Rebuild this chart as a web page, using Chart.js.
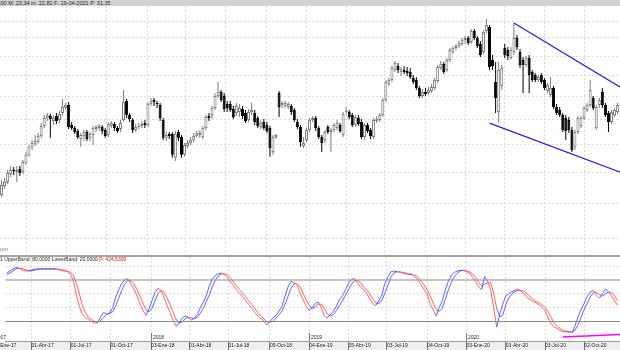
<!DOCTYPE html>
<html><head><meta charset="utf-8">
<script src="https://cdn.jsdelivr.net/npm/chart.js@4"></script>
<style>
html,body{margin:0;padding:0;background:#fff;}
#wrap{position:relative;width:620px;height:350px;overflow:hidden;font-family:"Liberation Sans",Arial,sans-serif;}
#band{position:absolute;left:0;top:341px;width:620px;height:9px;background:#efefef;}
#main{position:absolute;left:0;top:6px;}
#osc{position:absolute;left:0;top:257px;}
#hdr{position:absolute;left:0;top:0;width:620px;height:6px;background:#d3d3d3;overflow:hidden;}
#hdr span{position:absolute;left:-1px;top:0px;font-size:5.5px;line-height:6px;white-space:nowrap;color:#222;}
#sep{position:absolute;left:0;top:255px;width:620px;height:2px;background:#a4a4a4;}
#oh{position:absolute;left:0;top:256px;font-size:5px;line-height:6px;white-space:nowrap;color:#222;}
#wm{position:absolute;left:0;top:246px;font-size:6px;line-height:7px;color:#7272d8;}
.red{color:#e01010;}
</style>
</head><body>
<div id="wrap">
  <div id="band"></div>
  <canvas id="main" width="620" height="249"></canvas>
  <canvas id="osc" width="620" height="93"></canvas>
  <div id="hdr"><span>,00 M: 23,34 m: 22,82 F: 19-04-2021 <span class="red" style="position:static">P: 31,35</span></span></div>
  <div id="sep"></div>
  <div id="oh">1 UpperBand: 80,0000 LowerBand: 20,0000 <span class="red">P: 424,5399</span></div>
  <div id="wm">om</div>
</div>
<script>
// ---- weekly OHLC (price) ----
const opens = [
16.52,17.09,17.35,17.89,18.16,18.02,18.23,18.02,18.66,19.24,
19.83,20.06,20.21,20.67,21.47,22.13,22.30,21.88,22.30,21.96,
22.56,22.99,23.26,21.55,21.30,21.06,20.44,20.67,20.98,20.52,
20.75,21.22,21.30,21.39,21.14,20.75,21.47,21.63,21.30,21.22,
21.96,23.61,22.39,21.96,21.14,21.39,21.47,21.71,21.55,23.34,
23.70,23.43,23.26,21.96,20.52,20.83,20.83,19.02,20.98,20.59,
19.24,19.90,20.13,20.36,20.67,20.75,20.59,21.30,22.30,22.39,
22.99,24.07,24.44,24.07,23.34,23.34,22.90,22.56,22.64,22.90,
22.56,21.96,22.64,22.56,22.13,21.39,21.80,21.55,21.30,19.45,
20.59,24.34,23.26,23.17,23.08,23.17,22.81,21.80,21.39,19.90,
20.36,21.14,21.96,22.13,21.30,20.59,20.36,21.39,20.98,21.14,
21.30,21.55,20.75,22.64,22.64,22.39,21.55,22.13,21.80,20.59,
21.55,21.14,20.59,21.88,21.96,22.39,23.70,25.19,25.57,26.56,
26.97,26.36,26.56,26.46,26.36,25.77,25.57,24.81,24.07,24.44,
24.34,24.53,24.81,25.48,26.77,27.18,26.56,27.59,28.45,28.88,
29.10,29.33,29.77,30.00,29.55,30.81,30.00,29.33,28.45,30.81,
31.28,27.59,25.38,22.64,25.00,28.88,28.66,27.80,28.45,30.00,
28.45,27.59,27.08,27.80,26.36,26.07,25.57,26.07,25.57,24.53,
24.16,24.81,23.08,22.81,22.39,22.13,21.96,21.14,19.83,20.98,
21.47,22.13,22.81,23.26,23.88,21.30,23.26,24.44,23.26,22.56,
21.80,22.39,22.64];
const highs = [
17.48,17.62,18.16,18.44,18.37,18.44,18.44,18.87,19.45,19.98,
20.36,20.75,20.91,21.71,22.39,22.56,22.47,22.39,22.56,22.73,
23.79,23.43,23.52,21.80,21.47,21.22,20.91,21.14,21.14,20.98,
21.47,21.55,21.63,21.55,21.30,21.80,21.88,21.80,21.47,21.96,
24.62,23.79,22.56,22.13,21.63,21.71,21.88,21.96,23.52,23.88,
23.88,23.61,23.43,22.13,20.98,20.98,20.98,21.06,21.14,20.75,
20.13,20.36,20.59,20.91,21.06,21.14,21.47,22.39,22.56,23.17,
24.34,25.38,24.62,24.34,23.61,23.61,23.17,23.43,23.34,23.17,
22.81,22.90,23.43,22.81,22.30,21.96,22.05,21.80,21.47,20.75,
20.83,24.53,23.61,23.61,23.52,23.34,22.99,22.05,21.55,20.59,
21.30,22.13,22.30,22.30,21.47,20.75,21.14,21.55,21.30,21.71,
21.96,21.71,22.64,23.08,22.81,22.56,22.39,22.39,22.05,21.71,
21.71,21.30,22.13,22.30,22.56,23.88,25.57,25.77,26.97,27.49,
27.28,26.87,26.97,26.87,26.77,26.07,25.87,25.00,24.72,24.81,
24.91,25.19,25.77,27.08,27.49,27.38,27.80,28.88,29.10,29.33,
29.66,30.00,30.23,30.23,31.04,31.04,30.23,29.66,30.92,32.25,
31.52,28.13,27.38,27.38,27.08,29.33,28.99,28.99,31.76,30.35,
28.77,27.91,28.02,28.13,26.56,26.26,26.07,26.26,25.77,25.29,
25.87,25.00,23.34,23.08,22.56,22.39,22.22,21.39,21.14,22.30,
22.30,23.17,23.43,25.57,24.07,23.26,23.88,24.81,23.43,22.73,
22.81,22.99,23.43];
const lows = [
16.39,16.90,17.22,17.68,17.82,17.35,17.75,17.89,18.52,19.09,
19.60,19.90,20.06,20.52,21.30,21.88,20.52,21.55,21.63,21.71,
22.39,22.81,21.22,21.14,20.83,20.44,19.83,20.28,20.28,20.28,
19.98,20.98,21.06,20.83,20.52,20.59,21.30,21.06,20.91,20.98,
21.80,22.13,21.80,20.91,20.98,21.22,21.30,21.30,21.39,23.17,
23.17,22.99,21.88,20.36,20.28,20.44,19.02,18.80,20.28,19.02,
19.09,19.75,19.98,20.21,20.52,20.52,20.44,21.14,21.88,22.05,
22.81,23.88,23.52,22.64,22.64,22.64,22.05,22.30,22.22,22.05,
21.71,21.80,22.39,21.55,21.30,21.22,21.14,20.91,19.09,19.24,
20.44,22.22,22.99,22.99,22.90,22.39,21.80,21.22,19.83,19.75,
20.21,20.98,21.80,21.06,20.44,19.45,20.13,20.83,19.45,20.98,
21.14,20.91,20.59,22.47,22.05,21.39,21.39,21.47,20.44,20.36,
20.91,20.44,20.44,21.71,21.80,22.22,23.52,25.00,25.38,26.36,
26.26,25.97,26.16,25.97,25.67,25.19,24.62,23.88,23.88,24.07,
24.16,24.34,24.62,25.29,26.56,26.16,26.36,27.38,28.23,28.66,
28.88,29.10,29.33,29.22,29.33,29.77,28.88,27.91,28.23,30.58,
26.56,26.56,22.56,21.71,24.62,27.80,27.59,27.59,28.13,28.66,
26.77,24.34,26.87,24.34,25.38,25.38,25.38,25.19,24.62,24.34,
23.98,22.90,22.39,22.22,20.98,20.36,20.91,19.45,19.60,20.83,
21.30,21.96,22.64,23.08,22.81,21.14,22.99,22.99,22.22,20.98,
21.63,22.22,22.47];
const closes = [
17.16,17.35,17.96,18.16,18.09,18.16,17.96,18.73,19.24,19.83,
20.13,20.28,20.67,21.47,22.13,22.39,22.05,22.13,21.88,22.47,
23.08,23.26,21.39,21.30,20.98,20.59,20.75,20.98,20.44,20.83,
21.30,21.39,21.47,21.06,20.67,21.63,21.71,21.30,21.06,21.71,
23.52,22.39,22.05,21.14,21.39,21.47,21.63,21.55,23.34,23.61,
23.52,23.34,22.13,20.52,20.75,20.67,19.24,20.83,20.52,19.24,
19.98,20.13,20.36,20.67,20.91,20.91,21.30,22.22,22.13,22.99,
24.07,24.44,23.70,22.90,22.99,22.81,22.22,23.17,22.99,22.30,
21.88,22.64,22.81,21.80,21.47,21.71,21.30,21.06,19.75,20.59,
20.75,23.08,23.43,23.43,23.34,22.64,21.96,21.39,20.21,20.13,
21.14,21.96,22.13,21.30,20.59,20.13,20.98,20.98,21.14,21.55,
21.71,21.06,22.47,22.73,22.22,21.55,22.22,21.63,20.59,21.55,
21.06,20.67,21.96,22.05,22.39,23.70,25.38,25.57,26.77,27.28,
26.56,26.66,26.36,26.26,25.87,25.38,24.81,24.07,24.44,24.25,
24.62,24.91,25.57,26.87,27.18,26.36,27.59,28.66,28.88,29.10,
29.44,29.77,30.00,29.44,30.81,30.00,29.10,28.13,30.69,31.52,
26.87,26.97,23.88,26.56,26.77,28.13,28.02,28.66,30.00,28.99,
27.08,27.08,27.80,26.07,25.57,25.57,25.87,25.38,24.81,25.10,
24.81,23.08,22.56,22.39,21.14,21.06,21.14,19.60,20.98,22.13,
22.13,22.99,23.26,24.62,22.99,23.08,23.70,23.26,22.39,21.80,
22.64,22.81,23.26];

// ---- stochastic %K / %D ----
const stochK = [
90,93,96,98,97,95,93,93,94,96, 96,96,96,96,96,96,96,95,94,93,
92,88,80,58,42,30,26,23,20,18, 18,27,33,31,32,40,55,66,75,80,
82,75,67,58,46,36,29,38,50,62, 68,64,55,43,33,22,13,18,25,28,
26,22,25,30,40,48,58,72,82,87, 89,90,88,83,77,72,65,61,56,50,
45,39,33,28,24,21,15,20,25,29, 35,42,57,70,78,76,72,61,51,42,
36,40,46,48,40,28,25,30,35,42, 52,57,66,75,81,82,75,70,66,61,
53,46,43,50,58,75,84,92,93,92, 91,90,89,88,88,84,80,73,66,60,
45,37,28,40,50,66,78,87,91,93, 94,94,92,90,84,78,70,66,85,78,
66,40,12,30,45,57,60,63,65,67, 64,60,55,52,49,47,44,40,36,25,
17,12,10,7,5,5,5,4,15,28, 38,47,57,63,65,58,54,60,67,63,
57,50,43];
const stochD = [
88,90,93,96,97,97,95,94,93,94, 95,96,96,96,96,96,96,96,95,94,
93,91,87,75,60,43,33,26,23,20, 19,21,26,30,32,34,42,54,65,74,
79,79,75,67,57,47,37,34,39,50, 60,65,62,54,44,33,23,18,19,24,
26,25,24,26,32,39,49,59,71,80, 86,89,89,87,83,77,71,66,61,56,
50,45,39,33,28,24,20,19,20,25, 30,35,45,56,68,75,75,70,61,51,
43,39,41,45,45,39,31,28,30,36, 43,50,58,66,74,79,79,76,70,66,
60,53,47,46,50,61,72,84,90,92, 92,91,90,89,88,87,84,79,73,66,
57,47,37,35,39,52,65,77,85,90, 93,94,93,92,89,84,77,71,74,76,
76,61,39,27,29,44,54,60,63,65, 65,64,60,56,52,49,47,44,40,34,
26,18,13,10,7,6,5,5,8,16, 27,38,47,56,62,62,59,57,60,63,
62,57,50];
const upperBand = 80;
const lowerBand = 20;

// ---- drawn trend lines (week index, value) ----
const channelTop = [{x:168, y:31.76}, {x:210, y:23.67}];
const channelBottom = [{x:160, y:21.71}, {x:210, y:17.46}];
const oscTrend = [{x:183.8, y:-2.5}, {x:212, y:2.9}];

// ---- axis ----
const firstBar = '2017-02-03';
const quarterDates = ['2017-01-02','2017-04-01','2017-07-01','2017-10-01','2018-01-03','2018-04-01','2018-07-01','2018-10-05','2019-01-04','2019-04-05','2019-07-03','2019-10-04','2020-01-03','2020-04-03','2020-07-03','2020-10-02'];
const quarterLabels = ['02-Ene-17','01-Abr-17','01-Jul-17','01-Oct-17','03-Ene-18','01-Abr-18','01-Jul-18','05-Oct-18','04-Ene-19','05-Abr-19','03-Jul-19','04-Oct-19','03-Ene-20','03-Abr-20','03-Jul-20','02-Oct-20'];
const yearDates = ['2017-01-02','2018-01-03','2019-01-04','2020-01-03'];
const yearLabels = ['2017','2018','2019','2020'];
const priceGrid = [14,16,18,20,22,24,26,28,30,32];
const oscGrid = [40,60,100];
const visibleWeeks = [-0.5, 202.78];
const priceRange = [13.145, 33.88];
const oscRange = [-8.2, 113.3];

const toUTC = s => { const p = s.split('-').map(Number); return Date.UTC(p[0], p[1]-1, p[2]); };
const weekOf = s => (toUTC(s) - toUTC(firstBar)) / (7*864e5);
const isUp = i => closes[i] >= opens[i];
const FONT = '"Liberation Sans", Arial, sans-serif';
const GRID = '#dadada';

const xBase = () => ({
  type:'linear', min:visibleWeeks[0], max:visibleWeeks[1], bounds:'data', offset:false,
  afterBuildTicks: s => { s.ticks = quarterDates.map(d => ({value: weekOf(d)})); }
});

new Chart(document.getElementById('main'), {
  type:'bar',
  data:{datasets:[
    {type:'line', data:channelTop, borderColor:'#2424dc', borderWidth:1.3, pointRadius:0, order:-1},
    {type:'line', data:channelBottom, borderColor:'#2424dc', borderWidth:1.3, pointRadius:0, order:-1},
    {data: opens.map((o,i)=>({x:i, y:[o, closes[i]]})), grouped:false, barThickness:3, maxBarThickness:3,
     borderWidth:1, borderSkipped:false, inflateAmount:0,
     backgroundColor: c => isUp(c.dataIndex) ? '#ffffff' : '#000000',
     borderColor: c => isUp(c.dataIndex) ? '#7c7c7c' : '#000000', order:0},
    {data: lows.map((l,i)=>({x:i, y:[l, highs[i]]})), grouped:false, barThickness:1, maxBarThickness:1,
     borderWidth:0, inflateAmount:0,
     backgroundColor: c => isUp(c.dataIndex) ? '#7c7c7c' : '#000000', order:1}
  ]},
  options:{
    responsive:false, animation:false, devicePixelRatio:1,
    layout:{padding:0},
    plugins:{legend:{display:false}, tooltip:{enabled:false}},
    scales:{
      x: Object.assign(xBase(), {
        ticks:{display:false}, grid:{color:GRID, drawTicks:false, offset:false},
        border:{display:false, dash:[2,2]}, afterFit: s => { s.height = 0; }
      }),
      y:{type:'logarithmic', min:priceRange[0], max:priceRange[1], bounds:'data',
        afterBuildTicks: s => { s.ticks = priceGrid.map(v => ({value:v})); },
        ticks:{display:false}, grid:{color:GRID, drawTicks:false},
        border:{display:false, dash:[2,2]}, afterFit: s => { s.width = 0; }}
    }
  }
});

const segColor = c => stochK[c.p1DataIndex] >= stochD[c.p1DataIndex] ? 'rgba(70,70,255,0.85)' : 'rgba(255,70,70,0.85)';

const yearPlugin = {
  id:'years',
  afterDraw(chart){
    const xs = chart.scales.x, ctx = chart.ctx, a = chart.chartArea;
    ctx.save();
    ctx.font = '5px ' + FONT;
    ctx.fillStyle = '#222'; ctx.strokeStyle = '#777'; ctx.lineWidth = 1;
    ctx.textBaseline = 'alphabetic'; ctx.textAlign = 'left';
    yearDates.forEach((d, i) => {
      const px = Math.round(xs.getPixelForValue(weekOf(d))) + 0.5;
      ctx.beginPath(); ctx.moveTo(px, a.bottom - 8); ctx.lineTo(px, a.bottom); ctx.stroke();
      ctx.fillText(yearLabels[i], px + 1.5, a.bottom - 2);
    });
    ctx.restore();
  }
};

new Chart(document.getElementById('osc'), {
  type:'line',
  data:{datasets:[
    {data:[{x:-1,y:upperBand},{x:215,y:upperBand}], borderColor:'#8a8a8a', borderWidth:1, pointRadius:0},
    {data:[{x:-1,y:lowerBand},{x:215,y:lowerBand}], borderColor:'#8a8a8a', borderWidth:1, pointRadius:0},
    {data: stochD.map((v,i)=>({x:i, y:v})), borderColor:'#ff4646', segment:{borderColor:segColor}, borderWidth:1, pointRadius:0, tension:0},
    {data: stochK.map((v,i)=>({x:i, y:v})), borderColor:'#4646ff', segment:{borderColor:segColor}, borderWidth:1, pointRadius:0, tension:0},
    {data: oscTrend, borderColor:'#ff00ff', borderWidth:1.5, pointRadius:0}
  ]},
  plugins:[yearPlugin],
  options:{
    responsive:false, animation:false, devicePixelRatio:1,
    layout:{padding:0},
    plugins:{legend:{display:false}, tooltip:{enabled:false}},
    scales:{
      x: Object.assign(xBase(), {
        ticks:{display:true, autoSkip:false, maxRotation:0, minRotation:0, align:'start', padding:-7,
               color:'#222', font:{size:5, family:FONT}, callback:(v,i) => quarterLabels[i]},
        grid:{color:GRID, drawTicks:true, tickLength:9, tickColor:'#777', tickBorderDash:[], offset:false},
        border:{display:true, color:'#9a9a9a', dash:[2,2]},
        afterFit: s => { s.height = 9; }
      }),
      y:{type:'linear', min:oscRange[0], max:oscRange[1], bounds:'data',
        afterBuildTicks: s => { s.ticks = oscGrid.map(v => ({value:v})); },
        ticks:{display:false}, grid:{color:GRID, drawTicks:false},
        border:{display:false, dash:[2,2]}, afterFit: s => { s.width = 0; }}
    }
  }
});
</script>
</body></html>
